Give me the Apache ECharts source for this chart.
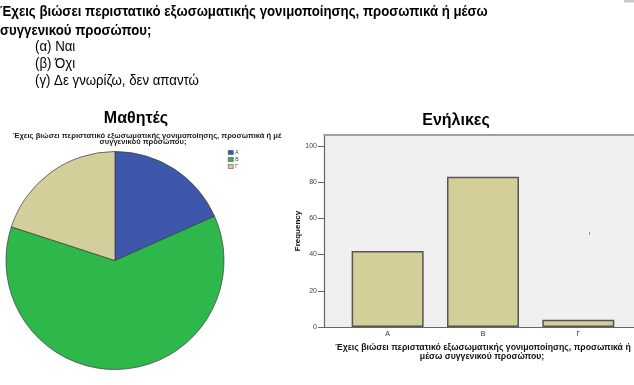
<!DOCTYPE html>
<html>
<head>
<meta charset="utf-8">
<script src="https://cdn.jsdelivr.net/npm/echarts@6/dist/echarts.min.js"></script>
<style>html,body{margin:0;padding:0;background:#fff}#c{width:634px;height:385px}</style>
</head>
<body>
<div id="c"></div>
<script>
// ---- data ----
var pieCategories = ['A', 'B', 'Γ'];
var pieValues = [11, 37, 12];
var barCategories = ['A', 'B', 'Γ'];
var barValues = [42, 83, 4];
var yTicks = [0, 20, 40, 60, 80, 100];

var questionLine1 = 'Έχεις βιώσει περιστατικό εξωσωματικής γονιμοποίησης, προσωπικά ή μέσω';
var questionLine2 = 'συγγενικού προσώπου;';
var options = ['(α) Ναι', '(β) Όχι', '(γ) Δε γνωρίζω, δεν απαντώ'];
var pieTitle = 'Μαθητές';
var barTitle = 'Ενήλικες';
var pieSub1 = 'Έχεις βιώσει περιστατικό εξωσωματικής γονιμοποίησης, προσωπικά ή μέ';
var pieSub2 = 'συγγενικού προσώπου;';
var barName1 = 'Έχεις βιώσει περιστατικό εξωσωματικής γονιμοποίησης, προσωπικά ή';
var barName2 = 'μέσω συγγενικού προσώπου;';

var pieColors = ['#3d57ab', '#2eb84b', '#d4ce9b'];
var FONT = 'Liberation Sans, Arial, sans-serif';

var chart = echarts.init(document.getElementById('c'), null, {renderer: 'canvas'});

function txt(x, y, s, size, weight, align, color, sx) {
  return {type: 'text', x: x, y: y, scaleX: sx || 1, originX: 0, originY: 0,
    style: {text: s, fontSize: size, fontWeight: weight, fontFamily: FONT,
      fill: color || '#000', align: align || 'left', verticalAlign: 'middle'}, z: 10};
}

var graphics = [
  txt(0, 12, questionLine1, 14, 'bold', 'left', '#000', 0.945),
  txt(0, 31, questionLine2, 14, 'bold', 'left', '#000', 0.945),
  txt(35, 47, options[0], 14, 'normal', 'left', '#000', 0.945),
  txt(35, 64, options[1], 14, 'normal', 'left', '#000', 0.945),
  txt(35, 81, options[2], 14, 'normal', 'left', '#000', 0.945),
  txt(136, 119, pieTitle, 16, 'bold', 'center'),
  txt(456, 121, barTitle, 16, 'bold', 'center'),
  txt(13, 136.5, pieSub1, 7, 'bold', 'left', '#222', 1.085),
  txt(143, 142, pieSub2, 7, 'bold', 'center', '#222', 1.085),
  txt(483, 348, barName1, 8.7, 'bold', 'center', '#111'),
  txt(482, 357, barName2, 8.7, 'bold', 'center', '#111'),
  {type: 'rect', shape: {x: 624, y: 0, width: 10, height: 2.5}, style: {fill: '#c8c8c8'}},
  {type: 'rect', shape: {x: 589, y: 232, width: 1, height: 3}, style: {fill: '#22ee22'}, z: 20}
];

chart.setOption({
  animation: false,
  graphic: graphics,
  legend: {
    data: pieCategories, orient: 'vertical', left: 228, top: 150, padding: 0,
    itemWidth: 5, itemHeight: 4, itemGap: 2, icon: 'rect',
    textStyle: {fontSize: 5, color: '#444', fontFamily: FONT, padding: [0, 0, 0, -3]},
    itemStyle: {borderColor: '#333', borderWidth: 0.5}
  },
  grid: {left: 324, top: 135, right: 0, bottom: 58, show: true, backgroundColor: '#f0f0f0', borderWidth: 0},
  xAxis: [{
    type: 'value', min: -0.6675, max: 2.584, position: 'bottom',
    axisLine: {show: true, onZero: false, lineStyle: {color: '#666', width: 1.2}},
    axisTick: {show: false},
    splitLine: {show: false},
    axisLabel: {customValues: [0, 1, 2], formatter: function (v) { return barCategories[Math.round(v)]; },
      fontSize: 7, color: '#333', fontFamily: FONT, margin: 4}
  }, {
    type: 'value', min: 0, max: 1, position: 'top',
    axisLine: {show: true, onZero: false, lineStyle: {color: '#a0a0a0', width: 2}},
    axisTick: {show: false}, axisLabel: {show: false}, splitLine: {show: false}
  }],
  yAxis: {
    type: 'value', min: 0, max: 106,
    name: 'Frequency', nameLocation: 'middle', nameRotate: 90, nameGap: 20,
    nameTextStyle: {fontSize: 8, fontWeight: 'bold', color: '#111', fontFamily: FONT},
    axisLine: {show: true, onZero: false, lineStyle: {color: '#666', width: 1.2}},
    axisTick: {show: true, length: 6, customValues: yTicks, lineStyle: {color: '#666'}},
    splitLine: {show: false},
    axisLabel: {customValues: yTicks, fontSize: 7, color: '#444', fontFamily: FONT, margin: 7}
  },
  series: [{
    type: 'pie', center: [115, 260.5], radius: 109, startAngle: 90, clockwise: true,
    label: {show: false}, labelLine: {show: false}, emphasis: {disabled: true},
    itemStyle: {borderColor: '#3a3a3a', borderWidth: 0.7},
    data: pieCategories.map(function (c, i) { return {name: c, value: pieValues[i], itemStyle: {color: pieColors[i]}}; })
  }, {
    type: 'bar', xAxisIndex: 0, yAxisIndex: 0, barWidth: 72,
    itemStyle: {color: '#d4cf98', borderColor: '#555', borderWidth: 1.5},
    data: barValues.map(function (v, i) { return [i, v]; })
  }]
});
</script>
</body>
</html>
